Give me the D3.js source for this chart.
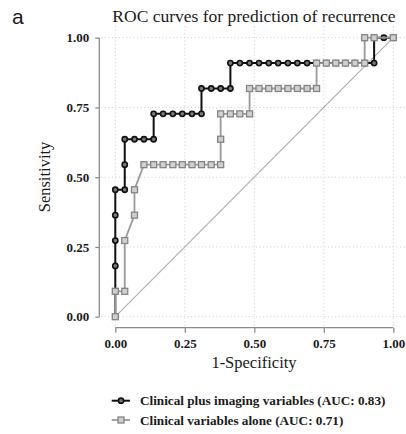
<!DOCTYPE html>
<html>
<head>
<meta charset="utf-8">
<script src="https://cdn.jsdelivr.net/npm/d3@7"></script>
<style>
  body { margin: 0; background: #fff; }
  svg { display: block; }
  text { font-family: 'Liberation Serif', 'DejaVu Serif', serif; fill: #1a1a1a; }
</style>
</head>
<body>
<svg id="chart" width="406" height="434"></svg>
<script>
// false positive rate / sensitivity pairs
const fprBoth = [0, 0, 0, 0, 0, 0, 0.034, 0.034, 0.034, 0.069, 0.103, 0.138,
  0.138, 0.172, 0.207, 0.241, 0.276, 0.310,
  0.310, 0.345, 0.379, 0.414,
  0.414, 0.448, 0.483, 0.517, 0.552, 0.586, 0.621, 0.655, 0.690, 0.724, 0.759, 0.793, 0.828, 0.862, 0.897, 0.931,
  0.931, 0.966, 1];
const tprBoth = [0, 0.091, 0.182, 0.273, 0.364, 0.455, 0.455, 0.545, 0.636, 0.636, 0.636, 0.636,
  0.727, 0.727, 0.727, 0.727, 0.727, 0.727,
  0.818, 0.818, 0.818, 0.818,
  0.909, 0.909, 0.909, 0.909, 0.909, 0.909, 0.909, 0.909, 0.909, 0.909, 0.909, 0.909, 0.909, 0.909, 0.909, 0.909,
  1, 1, 1];
const fprClin = [0, 0, 0.034, 0.034, 0.069, 0.069,
  0.103, 0.138, 0.172, 0.207, 0.241, 0.276, 0.310, 0.345, 0.379,
  0.379, 0.379, 0.414, 0.448, 0.483,
  0.483, 0.517, 0.552, 0.586, 0.621, 0.655, 0.690, 0.724,
  0.724, 0.759, 0.793, 0.828, 0.862, 0.897,
  0.897, 0.931, 1];
const tprClin = [0, 0.091, 0.091, 0.273, 0.364, 0.455,
  0.545, 0.545, 0.545, 0.545, 0.545, 0.545, 0.545, 0.545, 0.545,
  0.636, 0.727, 0.727, 0.727, 0.727,
  0.818, 0.818, 0.818, 0.818, 0.818, 0.818, 0.818, 0.818,
  0.909, 0.909, 0.909, 0.909, 0.909, 0.909,
  1, 1, 1];
const tickValues = [0, 0.25, 0.5, 0.75, 1];
const legendLabels = ['Clinical plus imaging variables (AUC: 0.83)', 'Clinical variables alone (AUC: 0.71)'];

const svg = d3.select('#chart');
const x = d3.scaleLinear().domain([0, 1]).range([115.3, 393.3]);
const y = d3.scaleLinear().domain([0, 1]).range([316.7, 37.7]);
const panel = { left: 101, right: 406, top: 26, bottom: 328 };

const both = fprBoth.map((d, i) => ({ fpr: d, tpr: tprBoth[i] }));
const clin = fprClin.map((d, i) => ({ fpr: d, tpr: tprClin[i] }));

// grid
svg.append('g')
  .selectAll('line')
  .data(tickValues)
  .enter()
  .append('line')
  .attr('x1', d => x(d))
  .attr('x2', d => x(d))
  .attr('y1', panel.top)
  .attr('y2', panel.bottom)
  .attr('stroke', '#d4d4d4')
  .attr('stroke-dasharray', '1.2,2.4');
svg.append('g')
  .selectAll('line')
  .data(tickValues)
  .enter()
  .append('line')
  .attr('x1', panel.left)
  .attr('x2', panel.right)
  .attr('y1', d => y(d))
  .attr('y2', d => y(d))
  .attr('stroke', '#d4d4d4')
  .attr('stroke-dasharray', '1.2,2.4');

// range-frame axes
const yAxis = svg.append('g')
  .attr('transform', 'translate(99.3,0)')
  .call(d3.axisLeft(y).tickValues(tickValues).tickFormat(d3.format('.2f')).tickSize(4).tickPadding(6));
const xAxis = svg.append('g')
  .attr('transform', 'translate(0,327.7)')
  .call(d3.axisBottom(x).tickValues(tickValues).tickFormat(d3.format('.2f')).tickSize(5).tickPadding(6));
[xAxis, yAxis].forEach((ax) => {
  ax.select('.domain').attr('stroke', '#8c8c8c').attr('stroke-width', 1.3)
    .attr('d', ax === xAxis ? `M${x(0)},0H${x(1)}` : `M0,${y(0)}V${y(1)}`);
  ax.selectAll('.tick line').attr('stroke', '#8c8c8c').attr('stroke-width', 1.3);
  ax.selectAll('.tick text')
    .style('font-family', "'Liberation Serif', serif")
    .style('font-size', '13px')
    .style('font-weight', 'bold')
    .attr('fill', '#2a2a2a');
});

// chance line
svg.append('line')
  .attr('x1', x(0)).attr('y1', y(0))
  .attr('x2', x(1)).attr('y2', y(1))
  .attr('stroke', '#b0b0b0')
  .attr('stroke-width', 1.2);

const line = d3.line().x(d => x(d.fpr)).y(d => y(d.tpr));

svg.append('path')
  .datum(both)
  .attr('d', line)
  .attr('fill', 'none')
  .attr('stroke', '#111')
  .attr('stroke-width', 2);
svg.append('g')
  .selectAll('circle')
  .data(both)
  .enter()
  .append('circle')
  .attr('cx', d => x(d.fpr))
  .attr('cy', d => y(d.tpr))
  .attr('r', 2.6)
  .attr('fill', '#7a7a7a')
  .attr('stroke', '#111')
  .attr('stroke-width', 1.6);

svg.append('path')
  .datum(clin)
  .attr('d', line)
  .attr('fill', 'none')
  .attr('stroke', '#9a9a9a')
  .attr('stroke-width', 1.8);
svg.append('g')
  .selectAll('rect')
  .data(clin)
  .enter()
  .append('rect')
  .attr('x', d => x(d.fpr) - 3)
  .attr('y', d => y(d.tpr) - 3)
  .attr('width', 6)
  .attr('height', 6)
  .attr('fill', '#cfcfcf')
  .attr('stroke', '#858585')
  .attr('stroke-width', 1.3);

// titles
svg.append('text')
  .attr('x', 12)
  .attr('y', 24)
  .style('font-family', "'Liberation Sans', Arial, sans-serif")
  .style('font-size', '21px')
  .text('a');
svg.append('text')
  .attr('x', 254)
  .attr('y', 22)
  .attr('text-anchor', 'middle')
  .style('font-size', '17.5px')
  .text('ROC curves for prediction of recurrence');
svg.append('text')
  .attr('x', 254)
  .attr('y', 368)
  .attr('text-anchor', 'middle')
  .style('font-size', '16.5px')
  .text('1-Specificity');
svg.append('text')
  .attr('transform', 'translate(50,177) rotate(-90)')
  .attr('text-anchor', 'middle')
  .style('font-size', '16.5px')
  .text('Sensitivity');

// legend
const legend = svg.append('g')
  .selectAll('g')
  .data(legendLabels)
  .enter()
  .append('g')
  .attr('transform', (d, i) => `translate(0, ${400.7 + i * 19.3})`);
legend.append('line')
  .attr('x1', 111.7).attr('x2', 130).attr('y1', 0).attr('y2', 0)
  .attr('stroke', (d, i) => (i === 0 ? '#111' : '#9a9a9a'))
  .attr('stroke-width', (d, i) => (i === 0 ? 2 : 1.8));
legend.filter((d, i) => i === 0)
  .append('circle')
  .attr('cx', 121).attr('cy', 0).attr('r', 2.6)
  .attr('fill', '#7a7a7a').attr('stroke', '#111').attr('stroke-width', 1.6);
legend.filter((d, i) => i === 1)
  .append('rect')
  .attr('x', 118).attr('y', -3).attr('width', 6).attr('height', 6)
  .attr('fill', '#cfcfcf').attr('stroke', '#858585').attr('stroke-width', 1.3);
legend.append('text')
  .attr('x', 140)
  .attr('y', 4.5)
  .style('font-size', '13.2px')
  .style('font-weight', 'bold')
  .attr('fill', '#333')
  .text(d => d);
</script>
</body>
</html>
